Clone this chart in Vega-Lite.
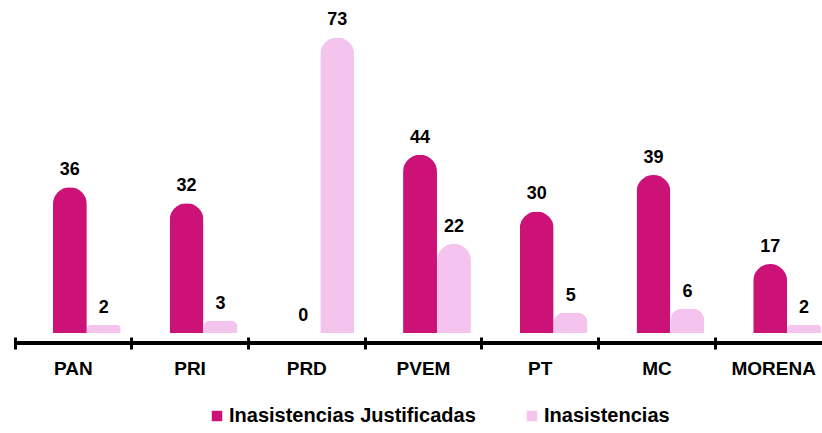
{
  "$schema": "https://vega.github.io/schema/vega-lite/v6.json",
  "width": 817,
  "height": 323,
  "autosize": "none",
  "padding": {"left": 15, "top": 20, "right": 0, "bottom": 90},
  "background": "white",
  "config": {"font": "Liberation Sans", "view": {"stroke": null}},
  "data": {"values": [
    {"partido": "PAN", "serie": "Inasistencias Justificadas", "valor": 36},
    {"partido": "PAN", "serie": "Inasistencias", "valor": 2},
    {"partido": "PRI", "serie": "Inasistencias Justificadas", "valor": 32},
    {"partido": "PRI", "serie": "Inasistencias", "valor": 3},
    {"partido": "PRD", "serie": "Inasistencias Justificadas", "valor": 0},
    {"partido": "PRD", "serie": "Inasistencias", "valor": 73},
    {"partido": "PVEM", "serie": "Inasistencias Justificadas", "valor": 44},
    {"partido": "PVEM", "serie": "Inasistencias", "valor": 22},
    {"partido": "PT", "serie": "Inasistencias Justificadas", "valor": 30},
    {"partido": "PT", "serie": "Inasistencias", "valor": 5},
    {"partido": "MC", "serie": "Inasistencias Justificadas", "valor": 39},
    {"partido": "MC", "serie": "Inasistencias", "valor": 6},
    {"partido": "MORENA", "serie": "Inasistencias Justificadas", "valor": 17},
    {"partido": "MORENA", "serie": "Inasistencias", "valor": 2}
  ]},
  "encoding": {
    "x": {
      "field": "partido", "type": "nominal", "sort": null,
      "scale": {"paddingInner": 0, "paddingOuter": 0},
      "axis": {
        "title": null, "domain": false, "bandPosition": 0,
        "tickColor": "black", "tickWidth": 3, "tickSize": 12, "offset": -6,
        "labelAngle": 0, "labelFont": "Liberation Sans", "labelFontWeight": "bold",
        "labelFontSize": 19, "labelColor": "black", "labelPadding": 10,
        "labelAlign": "center", "labelBound": false
      }
    },
    "xOffset": {
      "field": "serie", "type": "nominal",
      "sort": ["Inasistencias Justificadas", "Inasistencias"],
      "scale": {"paddingInner": 0, "paddingOuter": 0.72, "align": 0.776}
    },
    "y": {
      "field": "valor", "type": "quantitative",
      "scale": {"domain": [-2.5, 77.3], "nice": false, "zero": false},
      "axis": null
    }
  },
  "layer": [
    {
      "mark": {"type": "rule", "color": "black", "strokeWidth": 3},
      "encoding": {"y": {"datum": -2.5}, "x": null, "xOffset": null}
    },
    {
      "mark": {"type": "bar", "cornerRadiusTopLeft": 17, "cornerRadiusTopRight": 17},
      "encoding": {
        "color": {
          "field": "serie", "type": "nominal",
          "sort": ["Inasistencias Justificadas", "Inasistencias"],
          "scale": {"domain": ["Inasistencias Justificadas", "Inasistencias"], "range": ["#CC1177", "#F4C3EE"]},
          "legend": {
            "title": null, "orient": "none", "direction": "horizontal",
            "legendX": 192, "legendY": 386,
            "symbolType": "square", "symbolSize": 110, "symbolStrokeWidth": 0,
            "labelFont": "Liberation Sans", "labelFontWeight": "bold", "labelFontSize": 20,
            "labelColor": "black", "labelLimit": 0, "columnPadding": 46, "labelOffset": 2
          }
        }
      }
    },
    {
      "mark": {"type": "text", "baseline": "bottom", "dy": -8, "font": "Liberation Sans", "fontWeight": "bold", "fontSize": 18, "color": "black"},
      "encoding": {"text": {"field": "valor", "type": "quantitative"}}
    }
  ]
}
